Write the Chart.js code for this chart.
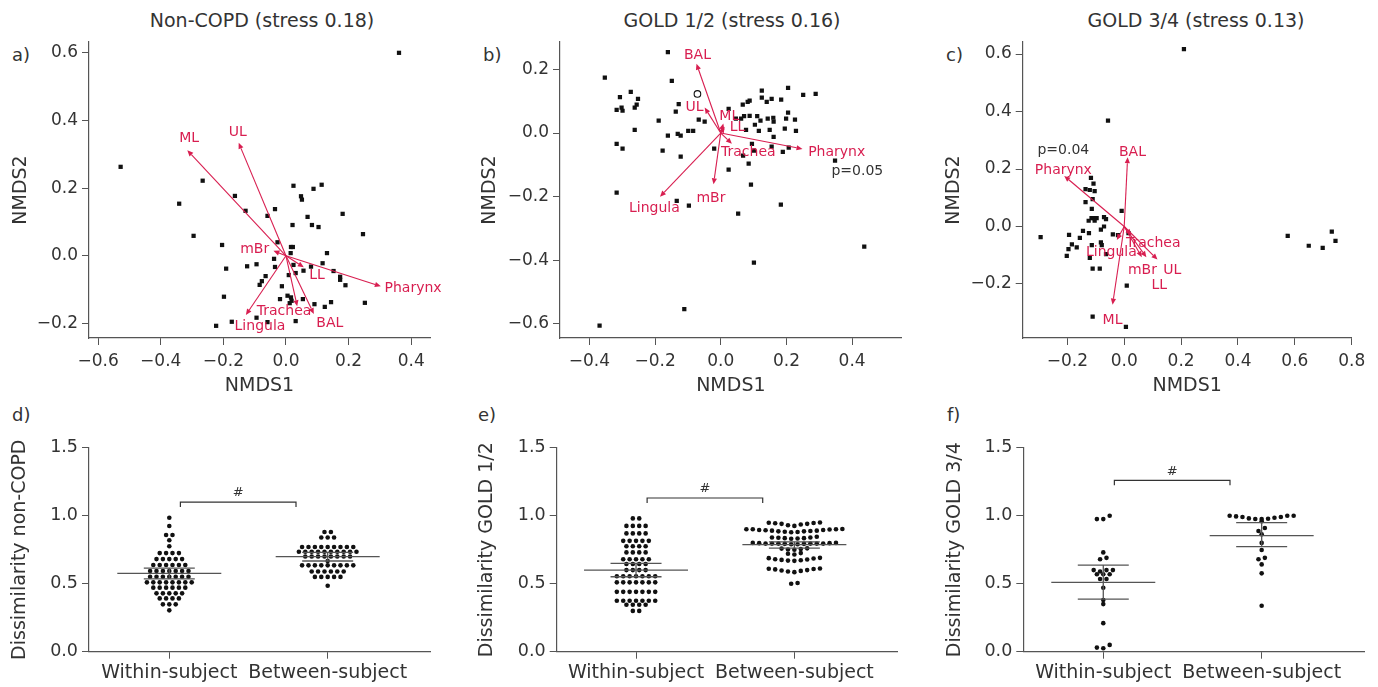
<!DOCTYPE html>
<html><head><meta charset="utf-8">
<script src="https://cdn.jsdelivr.net/npm/chart.js@4.4.1/dist/chart.umd.min.js"></script>
<style>
html,body{margin:0;padding:0;background:#fff;}
body{width:1378px;height:687px;position:relative;overflow:hidden;font-family:'DejaVu Sans',sans-serif;color:#333;}
canvas{position:absolute;}
.t{position:absolute;font-size:18px;line-height:22px;color:#333;white-space:nowrap;}
.ttl{width:400px;text-align:center;font-size:19px;}
</style>
</head><body>
<div class="t ttl" style="left:62px;top:9px">Non-COPD (stress 0.18)</div>
<div class="t ttl" style="left:532px;top:9px">GOLD 1/2 (stress 0.16)</div>
<div class="t ttl" style="left:996px;top:9px">GOLD 3/4 (stress 0.13)</div>
<div class="t" style="left:12px;top:44px">a)</div>
<div class="t" style="left:483px;top:44px">b)</div>
<div class="t" style="left:946px;top:44px">c)</div>
<div class="t" style="left:12px;top:404px">d)</div>
<div class="t" style="left:478px;top:404px">e)</div>
<div class="t" style="left:947px;top:404px">f)</div>
<canvas id="pa"></canvas><canvas id="pb"></canvas><canvas id="pc"></canvas>
<canvas id="pd"></canvas><canvas id="pe"></canvas><canvas id="pf"></canvas>
<script>
// ---------------- DATA ----------------
// Panel a: Non-COPD NMDS
const aX = [0.361,-0.528,-0.341,-0.266,-0.295,-0.163,-0.129,-0.059,-0.035,0.024,0.088,0.114,0.048,0.051,0.069,0.021,0.083,0.104,0.181,0.246,-0.027,-0.204,0.016,0.022,0.015,0.131,-0.038,-0.035,0.024,0.080,0.117,0.056,0.152,-0.191,-0.124,-0.094,0.009,0.031,-0.065,-0.077,-0.084,0.173,0.173,0.190,-0.013,-0.198,-0.019,0.005,0.016,0.012,0.018,0.054,0.091,0.124,0.144,0.252,-0.094,-0.173,-0.223,-0.059,0.031];
const aY = [0.600,0.263,0.154,0.222,0.059,0.177,0.133,0.118,0.138,0.207,0.198,0.210,0.176,0.166,0.115,0.091,0.091,0.085,0.124,0.064,0.040,0.032,0.026,0.026,0.008,0.008,-0.009,-0.033,-0.027,-0.032,-0.022,-0.044,-0.045,-0.038,-0.031,-0.025,-0.057,-0.051,-0.060,-0.075,-0.086,-0.062,-0.071,-0.087,-0.090,-0.121,-0.128,-0.118,-0.123,-0.140,-0.133,-0.128,-0.143,-0.151,-0.137,-0.139,-0.183,-0.195,-0.207,-0.196,-0.193];
const aNames = ['ML','UL','mBr','LL','Pharynx','Trachea','BAL','Lingula'];
const aHeadX = [-0.315,-0.151,-0.040,0.057,0.303,0.036,0.089,-0.128];
const aHeadY = [0.312,0.334,0.015,-0.034,-0.090,-0.149,-0.172,-0.175];
const aLabX  = [-0.309,-0.154,-0.100,0.099,0.406,-0.006,0.140,-0.083];
const aLabY  = [0.347,0.365,0.020,-0.057,-0.097,-0.165,-0.200,-0.208];

// Panel b: GOLD 1/2 NMDS
const bX = [-0.161,-0.353,-0.149,-0.274,-0.307,-0.252,-0.256,-0.262,-0.317,-0.302,-0.299,-0.128,-0.137,-0.189,-0.262,-0.161,-0.131,-0.122,-0.099,-0.084,-0.067,-0.049,-0.317,-0.299,-0.177,-0.122,-0.317,-0.134,-0.097,-0.111,-0.369,-0.020,0.024,0.046,0.062,0.067,0.082,0.088,0.071,0.088,0.111,0.077,0.104,0.121,0.125,0.125,0.140,0.155,0.184,0.205,0.251,0.289,0.143,0.160,0.161,0.199,0.205,0.226,0.116,0.149,0.195,0.229,0.161,0.095,0.155,0.207,0.101,0.068,0.189,0.085,0.024,0.092,0.053,0.183,0.348,0.437,0.101];
const bY = [0.254,0.174,0.164,0.129,0.113,0.107,0.089,0.080,0.073,0.080,0.070,0.091,0.067,0.039,0.010,-0.008,-0.003,-0.008,0.007,0.007,0.042,0.036,-0.034,-0.049,-0.055,-0.074,-0.187,-0.213,-0.228,-0.553,-0.605,-0.049,0.076,0.045,0.045,0.089,0.098,0.102,0.053,0.054,0.053,0.010,0.026,0.039,0.133,0.111,0.098,0.107,0.105,0.142,0.120,0.123,0.045,0.048,0.036,0.045,0.064,0.042,0.007,0.010,0.014,0.007,-0.012,-0.034,-0.043,-0.046,-0.055,-0.071,-0.059,-0.096,-0.115,-0.162,-0.253,-0.225,-0.087,-0.357,-0.407];
const bOpenX = [-0.071];
const bOpenY = [0.123];
const bNames = ['BAL','UL','ML','LL','Trachea','Pharynx','mBr','Lingula'];
const bHeadX = [-0.074,-0.049,0.008,0.012,0.034,0.249,-0.022,-0.185];
const bHeadY = [0.218,0.080,0.030,0.020,-0.034,-0.050,-0.161,-0.200];
const bLabX  = [-0.071,-0.080,0.026,0.051,0.084,0.353,-0.030,-0.202];
const bLabY  = [0.243,0.081,0.051,0.018,-0.062,-0.062,-0.205,-0.237];
const bNote = {text:'p=0.05', x:0.416, y:-0.121};

// Panel c: GOLD 3/4 NMDS
const cX = [0.210,-0.057,-0.294,-0.117,-0.108,-0.136,-0.121,-0.104,-0.111,-0.136,-0.114,-0.009,-0.115,-0.107,-0.097,-0.125,-0.104,-0.071,-0.064,-0.145,-0.124,-0.082,-0.071,-0.194,-0.156,-0.184,-0.196,-0.167,-0.202,-0.114,-0.082,-0.079,-0.040,-0.022,0.015,-0.064,-0.121,-0.111,-0.086,0.009,-0.111,0.006,0.575,0.649,0.698,0.730,0.743];
const cY = [0.617,0.368,-0.037,0.169,0.149,0.130,0.127,0.123,0.095,0.085,0.061,0.054,0.029,0.029,0.029,0.020,0.020,0.033,0.026,-0.015,-0.023,-0.011,0.000,-0.029,-0.040,-0.062,-0.079,-0.073,-0.102,-0.065,-0.055,-0.065,-0.027,-0.030,-0.023,-0.096,-0.109,-0.147,-0.147,-0.206,-0.314,-0.349,-0.033,-0.067,-0.074,-0.018,-0.050];
const cNames = ['Pharynx','BAL','ML','Lingula','Trachea','mBr','UL','LL'];
const cHeadX = [-0.211,0.012,-0.041,-0.026,0.025,0.062,0.078,0.117];
const cHeadY = [0.176,0.241,-0.272,-0.047,-0.030,-0.107,-0.107,-0.115];
const cLabX  = [-0.214,0.029,-0.041,-0.045,0.102,0.064,0.169,0.123];
const cLabY  = [0.196,0.257,-0.326,-0.090,-0.059,-0.154,-0.152,-0.204];
const cNote = {text:'p=0.04', x:-0.214, y:0.264};

// Tick values
const aXTicks = [-0.6,-0.4,-0.2,0,0.2,0.4], aYTicks = [-0.2,0,0.2,0.4,0.6];
const bXTicks = [-0.4,-0.2,0,0.2,0.4],      bYTicks = [-0.6,-0.4,-0.2,0,0.2];
const cXTicks = [-0.2,0,0.2,0.4,0.6,0.8],   cYTicks = [-0.2,0,0.2,0.4,0.6];
const dissTicks = [0,0.5,1.0,1.5];

// Bottom panels: dissimilarity values
const groups = ['Within-subject','Between-subject'];
const dWithin = [0.985,0.924,0.858,0.858,0.819,0.775,0.725,0.725,0.725,0.725,0.681,0.681,0.681,0.681,0.681,0.637,0.637,0.637,0.637,0.637,0.637,0.593,0.593,0.593,0.593,0.593,0.593,0.593,0.551,0.551,0.551,0.551,0.551,0.551,0.551,0.51,0.51,0.51,0.51,0.51,0.51,0.51,0.51,0.471,0.471,0.471,0.471,0.471,0.471,0.429,0.429,0.429,0.429,0.429,0.392,0.392,0.392,0.392,0.348,0.348,0.348,0.304];
const dBetween = [0.88,0.88,0.84,0.84,0.84,0.77,0.77,0.77,0.77,0.77,0.77,0.77,0.77,0.77,0.735,0.735,0.735,0.735,0.735,0.735,0.735,0.735,0.735,0.735,0.70,0.70,0.70,0.70,0.70,0.70,0.70,0.70,0.667,0.635,0.635,0.635,0.635,0.635,0.635,0.635,0.635,0.635,0.59,0.59,0.59,0.59,0.59,0.59,0.55,0.55,0.55,0.55,0.55,0.485];
const eWithin = [0.98,0.98,0.925,0.925,0.925,0.925,0.87,0.87,0.87,0.87,0.815,0.815,0.815,0.815,0.815,0.775,0.775,0.775,0.775,0.73,0.73,0.73,0.73,0.68,0.68,0.68,0.68,0.68,0.645,0.645,0.645,0.645,0.60,0.60,0.60,0.60,0.555,0.555,0.555,0.555,0.555,0.555,0.555,0.51,0.51,0.51,0.51,0.51,0.51,0.51,0.44,0.44,0.44,0.44,0.44,0.44,0.44,0.375,0.375,0.375,0.375,0.375,0.375,0.375,0.345,0.345,0.345,0.345,0.30,0.30];
const eBetween = [0.95,0.948,0.945,0.94,0.935,0.93,0.925,0.94,0.946,0.90,0.90,0.898,0.895,0.893,0.89,0.888,0.885,0.882,0.88,0.878,0.885,0.89,0.895,0.90,0.902,0.845,0.84,0.84,0.838,0.835,0.835,0.832,0.83,0.80,0.80,0.798,0.798,0.795,0.795,0.795,0.795,0.795,0.795,0.793,0.793,0.79,0.79,0.76,0.758,0.755,0.752,0.75,0.725,0.72,0.715,0.69,0.688,0.685,0.68,0.678,0.675,0.672,0.67,0.668,0.612,0.61,0.608,0.605,0.60,0.597,0.594,0.59,0.585,0.505,0.50];
const fWithin = [1.00,0.975,0.975,0.73,0.69,0.68,0.60,0.60,0.60,0.59,0.57,0.57,0.57,0.535,0.535,0.47,0.38,0.35,0.21,0.05,0.03,0.025];
const fBetween = [1.00,1.00,1.00,0.995,0.99,0.99,0.985,0.98,0.978,0.976,0.975,0.96,0.91,0.887,0.863,0.80,0.748,0.69,0.68,0.642,0.576,0.338];
// mean and 95% CI [within, between]
const dMean = [0.576,0.699], dLo = [0.535,0.667], dHi = [0.615,0.731];
const eMean = [0.600,0.788], eLo = [0.551,0.762], eHi = [0.650,0.808];
const fMean = [0.510,0.853], fLo = [0.387,0.772], fHi = [0.637,0.949];
const dBracket = 1.10, eBracket = 1.13, fBracket = 1.26;
const bracketSpan = [1.07,1.80];

// ---------------- LAYOUT ----------------
const RED = '#d81e50', INK = '#333333', AXIS = '#555555';
const FONT = "'DejaVu Sans', sans-serif";
Chart.defaults.font.family = FONT;
Chart.defaults.color = INK;

const TOP = {top:0, height:400, aTop:42, aBot:338};
const BOT = {top:395, height:292, aTop:447.7, aBot:651.7};
const geo = {
  pa:{row:TOP, left:0,   width:460, aL:89,     aR:430,    xr:[-0.629,0.460], yr:[-0.243,0.632], ytp:10},
  pb:{row:TOP, left:460, width:460, aL:560,    aR:901.7,  xr:[-0.4895,0.551], yr:[-0.644,0.286], ytp:19},
  pc:{row:TOP, left:920, width:458, aL:1022.7, aR:1351.7, xr:[-0.357,0.800], yr:[-0.388,0.642], ytp:23},
  pd:{row:BOT, left:0,   width:460, aL:89,     aR:430,    xr:[0.493,2.646], yr:[0,1.5], ytp:9},
  pe:{row:BOT, left:460, width:460, aL:556.7,  aR:897.3,  xr:[0.499,2.65],  yr:[0,1.5], ytp:16},
  pf:{row:BOT, left:920, width:458, aL:1023.3, aR:1364.3, xr:[0.495,2.648], yr:[0,1.5], ytp:23.5}
};

const fmt1 = v => (v < -1e-9 ? '\u2212' : '') + Math.abs(v).toFixed(1);

// arrows + labels plugin
const arrowPlugin = {
  id:'arrows',
  afterDatasetsDraw(chart, args, o) {
    if (!o || !o.names) return;
    const xs = chart.scales.x, ys = chart.scales.y, ctx = chart.ctx;
    const ox = xs.getPixelForValue(0), oy = ys.getPixelForValue(0);
    ctx.save();
    ctx.strokeStyle = RED; ctx.fillStyle = RED; ctx.lineWidth = 1.1;
    o.names.forEach((n, i) => {
      const hx = xs.getPixelForValue(o.hx[i]), hy = ys.getPixelForValue(o.hy[i]);
      const ang = Math.atan2(hy - oy, hx - ox);
      const L = 6, W = 2.6;
      const bx = hx - L * Math.cos(ang), by = hy - L * Math.sin(ang);
      ctx.beginPath(); ctx.moveTo(ox, oy); ctx.lineTo(bx, by); ctx.stroke();
      ctx.beginPath();
      ctx.moveTo(hx, hy);
      ctx.lineTo(bx + W * Math.sin(ang), by - W * Math.cos(ang));
      ctx.lineTo(bx - W * Math.sin(ang), by + W * Math.cos(ang));
      ctx.closePath(); ctx.fill();
    });
    ctx.font = '14px ' + FONT; ctx.textAlign = 'center'; ctx.textBaseline = 'middle';
    o.names.forEach((n, i) => {
      ctx.fillText(n, xs.getPixelForValue(o.lx[i]), ys.getPixelForValue(o.ly[i]));
    });
    if (o.note) {
      ctx.fillStyle = INK;
      ctx.fillText(o.note.text, xs.getPixelForValue(o.note.x), ys.getPixelForValue(o.note.y));
    }
    ctx.restore();
  }
};

// mean / CI / bracket plugin
const statPlugin = {
  id:'stats',
  afterDatasetsDraw(chart, args, o) {
    if (!o || !o.mean) return;
    const xs = chart.scales.x, ys = chart.scales.y, ctx = chart.ctx;
    ctx.save();
    ctx.strokeStyle = AXIS; ctx.lineWidth = 1.3;
    const seg = (x0,y0,x1,y1) => { ctx.beginPath(); ctx.moveTo(x0,y0); ctx.lineTo(x1,y1); ctx.stroke(); };
    o.mean.forEach((m, i) => {
      const cx = xs.getPixelForValue(i + 1);
      const ym = ys.getPixelForValue(m), yl = ys.getPixelForValue(o.lo[i]), yh = ys.getPixelForValue(o.hi[i]);
      seg(cx - 52, ym, cx + 52, ym);
      seg(cx - 25.5, yl, cx + 25.5, yl);
      seg(cx - 25.5, yh, cx + 25.5, yh);
      seg(cx, yl, cx, yh);
    });
    const by = ys.getPixelForValue(o.bracket);
    const bx0 = xs.getPixelForValue(bracketSpan[0]), bx1 = xs.getPixelForValue(bracketSpan[1]);
    ctx.strokeStyle = INK; ctx.lineWidth = 1.2;
    ctx.beginPath(); ctx.moveTo(bx0, by + 5); ctx.lineTo(bx0, by); ctx.lineTo(bx1, by); ctx.lineTo(bx1, by + 5); ctx.stroke();
    ctx.fillStyle = INK; ctx.font = '13px ' + FONT; ctx.textAlign = 'center'; ctx.textBaseline = 'middle';
    ctx.fillText('#', (bx0 + bx1) / 2, by - 9);
    ctx.restore();
  }
};

function axisCommon(tickSize) {
  return {
    grid:{display:true, drawOnChartArea:false, drawTicks:true, tickLength:7, color:AXIS, lineWidth:1},
    border:{display:true, color:AXIS, width:1.2},
    ticks:{font:{size:tickSize}, color:INK, autoSkip:false, maxRotation:0, minRotation:0}
  };
}

function makeChart(id, datasets, opt) {
  const g = geo[id];
  const cv = document.getElementById(id);
  cv.style.left = g.left + 'px'; cv.style.top = g.row.top + 'px';
  cv.style.width = g.width + 'px'; cv.style.height = g.row.height + 'px';
  cv.width = g.width; cv.height = g.row.height;
  const xa = axisCommon(opt.xTickSize), ya = axisCommon(opt.yTickSize);
  Object.assign(xa, {
    type:'linear', min:g.xr[0], max:g.xr[1],
    afterBuildTicks: s => { s.ticks = opt.xTicks.map(v => ({value:v})); },
    afterFit: s => { s.height = g.row.top + g.row.height - g.row.aBot; },
    title: opt.xTitle ? {display:true, text:opt.xTitle, font:{size:19}, color:INK, padding:{top:0, bottom:3}} : {display:false}
  });
  xa.ticks.callback = opt.xFmt; xa.ticks.padding = opt.xPad;
  Object.assign(ya, {
    type:'linear', min:g.yr[0], max:g.yr[1],
    afterBuildTicks: s => { s.ticks = opt.yTicks.map(v => ({value:v})); },
    afterFit: s => { s.width = g.aL - g.left; },
    title: {display:true, text:opt.yTitle, font:{size:19}, color:INK, padding:{top:g.ytp, bottom:0}}
  });
  ya.ticks.callback = fmt1; ya.ticks.padding = 4;
  return new Chart(cv, {
    type:'scatter',
    data:{datasets},
    options:{
      responsive:false, animation:false, devicePixelRatio: window.devicePixelRatio || 1,
      layout:{padding:{top:g.row.aTop - g.row.top, right:g.left + g.width - g.aR, bottom:0, left:0}},
      scales:{x:xa, y:ya},
      plugins:Object.assign({legend:{display:false}, tooltip:{enabled:false}}, opt.plugins || {})
    },
    plugins:[arrowPlugin, statPlugin]
  });
}

const pts = (xs, ys) => xs.map((x, i) => ({x, y:ys[i]}));
const sq = (data) => ({data, pointStyle:'rect', pointRadius:3, backgroundColor:'#111', borderWidth:0});

makeChart('pa', [sq(pts(aX, aY))], {
  xTicks:aXTicks, yTicks:aYTicks, xFmt:fmt1, xTickSize:17, yTickSize:17, xPad:6,
  xTitle:'NMDS1', yTitle:'NMDS2',
  plugins:{arrows:{names:aNames, hx:aHeadX, hy:aHeadY, lx:aLabX, ly:aLabY}}
});
makeChart('pb', [sq(pts(bX, bY)),
  {data:pts(bOpenX, bOpenY), pointStyle:'circle', pointRadius:3.3, backgroundColor:'rgba(0,0,0,0)', borderColor:'#111', borderWidth:1.1}], {
  xTicks:bXTicks, yTicks:bYTicks, xFmt:fmt1, xTickSize:17, yTickSize:17, xPad:6,
  xTitle:'NMDS1', yTitle:'NMDS2',
  plugins:{arrows:{names:bNames, hx:bHeadX, hy:bHeadY, lx:bLabX, ly:bLabY, note:bNote}}
});
makeChart('pc', [sq(pts(cX, cY))], {
  xTicks:cXTicks, yTicks:cYTicks, xFmt:fmt1, xTickSize:17, yTickSize:17, xPad:6,
  xTitle:'NMDS1', yTitle:'NMDS2',
  plugins:{arrows:{names:cNames, hx:cHeadX, hy:cHeadY, lx:cLabX, ly:cLabY, note:cNote}}
});

// row-based scatter-dot layout (values grouped into rows, spread sideways, higher values outward)
function dotRows(vals, center, g, spacingPx, rowTol) {
  const pxX = (g.aR - g.aL) / (g.xr[1] - g.xr[0]);
  const order = vals.map((v, i) => i).sort((a, b) => vals[b] - vals[a]);
  const rows = [];
  order.forEach(i => {
    const r = rows[rows.length - 1];
    if (r && (vals[r[0]] - vals[i]) <= rowTol) r.push(i); else rows.push([i]);
  });
  const out = new Array(vals.length);
  rows.forEach(r => {
    const n = r.length;
    const slots = [];
    for (let k = 0; k < n; k++) slots.push(k - (n - 1) / 2);
    slots.sort((a, b) => Math.abs(a) - Math.abs(b) || a - b);
    const asc = r.slice().sort((a, b) => vals[a] - vals[b]);
    asc.forEach((idx, k) => { out[idx] = {x:center + slots[k] * spacingPx / pxX, y:vals[idx]}; });
  });
  return out;
}
const dot = (data) => ({data, pointStyle:'circle', pointRadius:2.3, backgroundColor:'#111', borderWidth:0});
const catFmt = v => groups[Math.round(v) - 1] || '';

function dissPanel(id, w, b, mean, lo, hi, br, ytitle) {
  const g = geo[id];
  makeChart(id, [dot(dotRows(w, 1, g, 6.4, 0.028)), dot(dotRows(b, 2, g, 6.4, 0.028))], {
    xTicks:[1, 2], yTicks:dissTicks, xFmt:catFmt, xTickSize:19, yTickSize:17.5, xPad:3,
    xTitle:null, yTitle:ytitle,
    plugins:{stats:{mean, lo, hi, bracket:br}}
  });
}
dissPanel('pd', dWithin, dBetween, dMean, dLo, dHi, dBracket, 'Dissimilarity non-COPD');
dissPanel('pe', eWithin, eBetween, eMean, eLo, eHi, eBracket, 'Dissimilarity GOLD 1/2');
dissPanel('pf', fWithin, fBetween, fMean, fLo, fHi, fBracket, 'Dissimilarity GOLD 3/4');
</script>
</body></html>
